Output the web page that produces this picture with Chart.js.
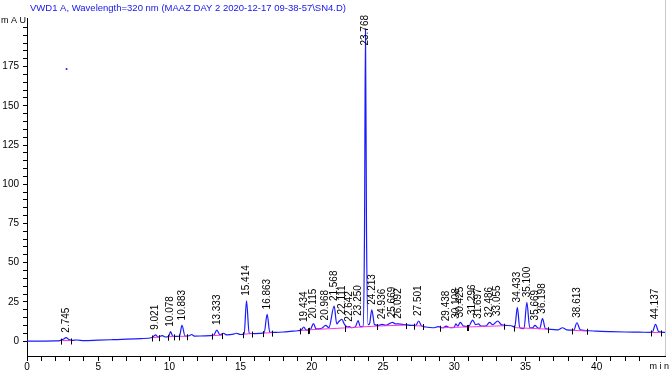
<!DOCTYPE html>
<html>
<head>
<meta charset="utf-8">
<script src="https://cdn.jsdelivr.net/npm/chart.js@4"></script>
<style>
    html, body { margin: 0; padding: 0; background: #ffffff; }
    canvas { display: block; }
</style>
</head>
<body>
<canvas id="chromChart" width="669" height="372"></canvas>
<script>
// signal trace: [time (min), signal (mAU)]
var trace = [
    [0, 0], [1, 0], [2, 0.1], [2.3, 0.3], [2.55, 1.2], [2.745, 2.2], [2.95, 1.0], [3.2, 0.5],
    [3.5, 0.7], [4, 0.3], [5, 0.6], [6, 0.9], [7, 1.2], [8, 1.6], [8.8, 2.3],
    [9.021, 4.0], [9.2, 2.6], [9.5, 3.5], [9.7, 2.6], [9.95, 2.9], [10.078, 6.0], [10.25, 3.0],
    [10.7, 3.0], [10.883, 10.0], [11.1, 3.2], [11.4, 3.4], [11.55, 4.2], [11.75, 3.2],
    [12.5, 3.3], [13.1, 3.6], [13.333, 7.0], [13.55, 4.0], [13.8, 5.0], [14.0, 4.0],
    [14.5, 4.4], [14.7, 5.0], [15.0, 4.2], [15.25, 4.6], [15.414, 25.7], [15.6, 5.0],
    [16.0, 4.8], [16.65, 5.2], [16.863, 17.0], [17.05, 5.6], [17.5, 5.6], [18.0, 5.8],
    [18.5, 6.2], [19.0, 6.6], [19.25, 7.0], [19.434, 9.0], [19.6, 7.0], [19.9, 7.4],
    [20.115, 11.2], [20.3, 7.8], [20.7, 8.2], [20.968, 10.0], [21.2, 8.6], [21.568, 22.3],
    [21.75, 11.0], [21.9, 12.5], [22.111, 13.8], [22.3, 10.5], [22.5, 9.0], [22.642, 9.2],
    [22.8, 8.6], [23.05, 9.0], [23.25, 13.0], [23.4, 9.2], [23.6, 9.5], [23.7, 70],
    [23.768, 199], [23.84, 70], [23.95, 10.5], [24.05, 11.0], [24.213, 20.0], [24.4, 10.5],
    [24.7, 10.0], [24.936, 10.7],
    [25.2, 10.0], [25.669, 12.0], [25.85, 11.0], [26.092, 11.0], [26.5, 10.5], [27.0, 10.0],
    [27.3, 10.0], [27.501, 12.8], [27.7, 9.8], [28.0, 9.0], [28.5, 8.5], [28.9, 9.2],
    [29.2, 8.5], [29.438, 9.5], [29.7, 8.6], [30.0, 8.8], [30.108, 11.0], [30.25, 9.5],
    [30.425, 12.0], [30.65, 9.5], [31.0, 9.2], [31.296, 13.4], [31.5, 10.5], [31.697, 11.0],
    [31.9, 9.5], [32.2, 9.5], [32.486, 11.9], [32.7, 10.5], [33.055, 12.8], [33.3, 10.5],
    [33.6, 10.0], [34.0, 9.8], [34.25, 9.0], [34.433, 21.5], [34.6, 8.5], [34.9, 8.0],
    [35.1, 24.7], [35.3, 8.5], [35.5, 8.5], [35.669, 10.0], [35.85, 8.5], [36.0, 8.0],
    [36.198, 14.3], [36.4, 8.0], [36.8, 7.5], [37.3, 7.2], [37.6, 8.5], [37.9, 7.2],
    [38.4, 7.0], [38.613, 11.7], [38.85, 7.2], [39.5, 6.6], [40, 6.3], [41, 6.0],
    [42, 5.8], [43, 5.7], [43.9, 5.6], [44.137, 10.7], [44.35, 6.0], [44.8, 5.6]
];

// labelled peaks (retention time, label text)
var peakTimes = [2.745, 9.021, 10.078, 10.883, 13.333, 15.414, 16.863, 19.434, 20.115, 20.968,
    21.568, 22.111, 22.642, 23.25, 23.768, 24.213, 24.936, 25.669, 26.092, 27.501,
    29.438, 30.108, 30.425, 31.296, 31.697, 32.486, 33.055, 34.433, 35.1, 35.669,
    36.198, 38.613, 44.137];
var peakLabels = ['2.745', '9.021', '10.078', '10.883', '13.333', '15.414', '16.863', '19.434', '20.115', '20.968',
    '21.568', '22.111', '22.642', '23.250', '23.768', '24.213', '24.936', '25.669', '26.092', '27.501',
    '29.438', '30.108', '30.425', '31.296', '31.697', '32.486', '33.055', '34.433', '35.100', '35.669',
    '36.198', '38.613', '44.137'];

// integration baselines: [start time, start mAU, end time, end mAU]
var baselines = [
    [2.4, 0.3, 3.1, 0.4], [8.8, 2.3, 9.3, 2.5], [9.9, 2.8, 10.35, 3.0], [10.65, 3.0, 11.2, 3.1],
    [13.0, 3.5, 13.7, 3.8], [15.2, 4.4, 15.8, 4.8], [16.6, 5.1, 17.2, 5.4], [19.2, 6.8, 19.7, 7.0],
    [19.8, 7.2, 22.3, 8.4], [22.3, 8.4, 24.6, 9.6], [24.6, 9.6, 26.6, 10.2], [27.2, 9.8, 27.8, 9.6],
    [29.0, 8.5, 30.9, 9.0], [31.0, 9.0, 33.5, 9.8], [34.2, 8.6, 36.6, 7.6], [38.3, 6.8, 39.3, 6.6],
    [43.8, 5.5, 44.5, 5.5]
];

// stray point near the top left
var strayPoint = [[2.78, 173.5]];

var titleText = 'VWD1 A, Wavelength=320 nm (MAAZ DAY 2 2020-12-17 09-38-57\\SN4.D)';
var FONT = '"Liberation Sans", Arial, sans-serif';

document.addEventListener('DOMContentLoaded', function() {
    var traceData = trace.map(function(p) { return { x: p[0], y: p[1] }; });

    // pink baseline pieces, broken by null points
    var baseData = [];
    baselines.forEach(function(b) {
        baseData.push({ x: b[0], y: b[1] });
        baseData.push({ x: b[2], y: b[3] });
        baseData.push({ x: b[2], y: null });
    });

    // text, labels, ticks drawn on top
    var annotate = {
        id: 'annotate',
        afterDraw: function(chart) {
            var ctx = chart.ctx;
            var xs = chart.scales.x, ys = chart.scales.y;
            var area = chart.chartArea;
            ctx.save();

            // right edge line
            ctx.strokeStyle = '#c8c8c8';
            ctx.lineWidth = 1;
            ctx.beginPath();
            ctx.moveTo(area.right + 0.5, 0);
            ctx.lineTo(area.right + 0.5, area.bottom);
            ctx.stroke();

            // peak boundary ticks
            ctx.strokeStyle = '#000000';
            baselines.forEach(function(b) {
                [[b[0], b[1]], [b[2], b[3]]].forEach(function(p) {
                    var px = Math.round(xs.getPixelForValue(p[0])) + 0.5;
                    var py = ys.getPixelForValue(p[1]);
                    ctx.beginPath();
                    ctx.moveTo(px, py - 2);
                    ctx.lineTo(px, py + 4);
                    ctx.stroke();
                });
            });

            // title and axis units
            ctx.fillStyle = '#1515ee';
            ctx.font = '9.5px ' + FONT;
            ctx.textBaseline = 'middle';
            ctx.textAlign = 'left';
            ctx.fillText(titleText, 30, 8);
            ctx.fillStyle = '#000000';
            ctx.font = '9px ' + FONT;
            ctx.fillText('m A U', 1, 21);
            ctx.textAlign = 'right';
            ctx.fillText('m i n', 669, 367);

            // rotated peak labels
            ctx.font = '10px ' + FONT;
            ctx.textAlign = 'left';
            ctx.textBaseline = 'middle';
            peakTimes.forEach(function(t, i) {
                var apex = 0;
                trace.forEach(function(p) { if (p[0] === t) apex = p[1]; });
                var px = xs.getPixelForValue(t);
                var w = ctx.measureText(peakLabels[i]).width;
                var py = Math.max(ys.getPixelForValue(apex) - 5, 15 + w);
                ctx.save();
                ctx.translate(px, py);
                ctx.rotate(-Math.PI / 2);
                ctx.fillText(peakLabels[i], 0, 0);
                ctx.restore();
            });
            ctx.restore();
        }
    };

    var ctx = document.getElementById('chromChart').getContext('2d');
    new Chart(ctx, {
        type: 'line',
        data: {
            datasets: [{
                data: traceData,
                borderColor: '#1a1aff',
                borderWidth: 1.2,
                pointRadius: 0,
                cubicInterpolationMode: 'monotone',
                order: 2
            }, {
                data: baseData,
                borderColor: '#ff33dd',
                borderWidth: 1,
                pointRadius: 0,
                spanGaps: false,
                order: 1
            }, {
                data: strayPoint.map(function(p) { return { x: p[0], y: p[1] }; }),
                showLine: false,
                pointRadius: 1,
                pointBackgroundColor: '#1a1aff',
                pointBorderWidth: 0,
                order: 0
            }]
        },
        options: {
            responsive: false,
            animation: false,
            layout: { padding: { top: 18, right: 1, left: 0, bottom: 0 } },
            plugins: {
                legend: { display: false },
                tooltip: { enabled: false }
            },
            scales: {
                x: {
                    type: 'linear',
                    min: 0,
                    max: 44.8,
                    afterBuildTicks: function(scale) {
                        scale.ticks = scale.ticks.filter(function(t) { return Number.isInteger(t.value); });
                    },
                    afterFit: function(scale) { scale.height = 16; },
                    ticks: {
                        stepSize: 1,
                        autoSkip: false,
                        maxRotation: 0,
                        padding: 0,
                        color: '#000000',
                        font: { family: FONT, size: 10 },
                        callback: function(v) { return v % 5 === 0 ? v : ''; }
                    },
                    grid: { drawOnChartArea: false, drawTicks: true, tickLength: 5, color: '#000000' },
                    border: { display: true, color: '#000000' }
                },
                y: {
                    min: -9.5,
                    max: 206,
                    afterBuildTicks: function(scale) {
                        scale.ticks = scale.ticks.filter(function(t) { return t.value % 5 === 0; });
                    },
                    afterFit: function(scale) { scale.width = 27; },
                    ticks: {
                        stepSize: 5,
                        autoSkip: false,
                        padding: 4,
                        color: '#000000',
                        font: { family: FONT, size: 10 },
                        callback: function(v) { return (v % 25 === 0 && v < 200) ? v : ''; }
                    },
                    grid: { drawOnChartArea: false, drawTicks: true, tickLength: 4, color: '#000000' },
                    border: { display: true, color: '#000000' }
                }
            }
        },
        plugins: [annotate]
    });
});
</script>
</body>
</html>
